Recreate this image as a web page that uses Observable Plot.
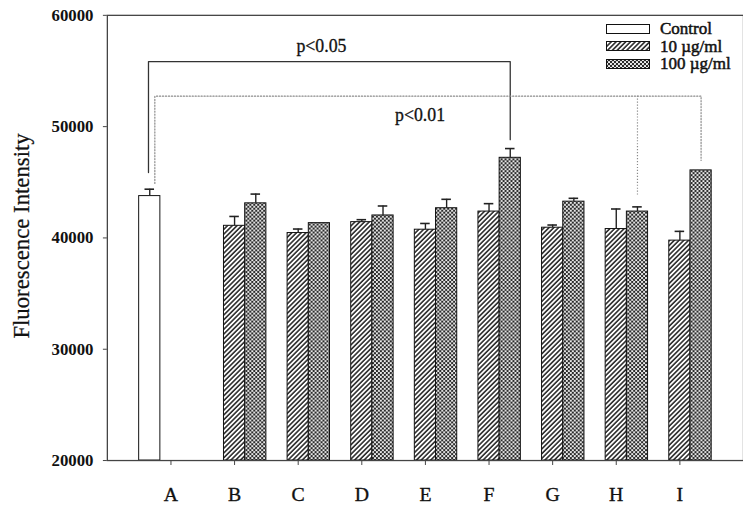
<!DOCTYPE html>
<html>
<head>
<meta charset="utf-8">
<script src="https://cdn.jsdelivr.net/npm/d3@7"></script>
<script src="https://cdn.jsdelivr.net/npm/@observablehq/plot@0.6"></script>
<style>
  html, body { margin: 0; padding: 0; background: #fff; overflow: hidden; }
  #wrap { position: relative; width: 743px; height: 510px; overflow: hidden; }
  .fig { font-family: "Liberation Serif", "DejaVu Serif", serif; color: #111; }
  .fig [aria-label="y-axis tick label"] text { font-size: 17px; font-weight: bold; }
  .fig [aria-label="x-axis tick label"] text { font-size: 20px; stroke: #111; stroke-width: 0.35px; }
  .legend { position: absolute; left: 606px; top: 20px; font-family: "Liberation Serif", serif;
            font-size: 17px; color: #111; line-height: 17.5px; -webkit-text-stroke: 0.5px #111; }
  .legend div { display: flex; align-items: center; height: 17.5px; }
  .legend svg { margin-right: 10px; display: block; }
</style>
</head>
<body>
<div id="wrap"></div>
<script>
// Fluorescence intensity per sample group (mean and upper error)
const groups = ["A", "B", "C", "D", "E", "F", "G", "H", "I"];
const series = ["Control", "10 µg/ml", "100 µg/ml"];

const controlValues = [43760, null, null, null, null, null, null, null, null];
const controlErrors = [620, 0, 0, 0, 0, 0, 0, 0, 0];
const lowValues  = [null, 41090, 40440, 41420, 40740, 42370, 40920, 40800, 39760];
const lowErrors  = [0, 840, 360, 220, 560, 710, 240, 1800, 830];
const highValues = [null, 43110, 41330, 42020, 42670, 47200, 43260, 42370, 46070];
const highErrors = [0, 830, 0, 850, 800, 830, 300, 420, 0];

const yTicks = [20000, 30000, 40000, 50000, 60000];

// significance brackets from the control bar to treated bars
const sigLabels  = ["p<0.05", "p<0.01"];
const sigLevels  = [55850, 52740];
const sigTargets = [[["F", "100 µg/ml"]], [["H", "100 µg/ml"], ["I", "100 µg/ml"]]];
const sigLegLows = [[45870, 48830], [44890, 43850, 46960]];

// ---- build rows ----
const valueSets = [controlValues, lowValues, highValues];
const errorSets = [controlErrors, lowErrors, highErrors];
const rows = [];
series.forEach((s, si) => {
  groups.forEach((g, gi) => {
    const v = valueSets[si][gi];
    if (v != null) rows.push({group: g, series: s, value: v, err: errorSets[si][gi]});
  });
});

// each group holds three slots (control, 10, 100) centred on its tick
const slot = (g, s) => groups.indexOf(g) + (series.indexOf(s) - 1) / 3;
const half = 1 / 6;
const capHalf = 0.075;

const fills = {"Control": "#fff", "10 µg/ml": "url(#hatch)", "100 µg/ml": "url(#cross)"};

const barMarks = series.map(s =>
  Plot.rect(rows.filter(d => d.series === s), {
    x1: d => slot(d.group, d.series) - half,
    x2: d => slot(d.group, d.series) + half,
    y1: () => yTicks[0],
    y2: "value",
    fill: fills[s],
    stroke: "#111",
    strokeWidth: 1
  })
);

const withErr = rows.filter(d => d.err > 0);

// bracket paths
const bracketLines = [];
const bracketLegs = [];
const bracketText = [];
sigLabels.forEach((label, bi) => {
  const shift = bi === 0 ? -0.02 : 0.08;
  const x0 = slot("A", "Control") + shift;
  const targets = sigTargets[bi];
  const last = targets[targets.length - 1];
  const xl = slot(last[0], last[1]);
  const lv = sigLevels[bi];
  const lows = sigLegLows[bi];
  [[x0, lows[0]], [x0, lv], [xl, lv], [xl, lows[lows.length - 1]]].forEach(([x, y]) =>
    bracketLines.push({bracket: bi, x, y}));
  targets.slice(0, -1).forEach((t, ti) =>
    bracketLegs.push({bracket: bi, x: slot(t[0], t[1]), y1: lv, y2: lows[ti + 1]}));
  bracketText.push({bracket: bi, label, x: (x0 + xl) / 2, y: lv});
});

const chart = Plot.plot({
  width: 751,
  height: 510,
  marginLeft: 108,
  marginRight: 0,
  marginTop: 15,
  marginBottom: 45,
  className: "fig",
  style: {fontFamily: "'Liberation Serif', serif", background: "#fff", overflow: "visible"},
  x: {type: "linear", domain: [-1, 9], axis: null},
  y: {domain: [yTicks[0], yTicks[yTicks.length - 1]], axis: null},
  marks: [
    ...barMarks,
    Plot.ruleX(withErr, {x: d => slot(d.group, d.series), y1: "value", y2: d => d.value + d.err, stroke: "#222", strokeWidth: 1.4}),
    Plot.ruleY(withErr, {y: d => d.value + d.err, x1: d => slot(d.group, d.series) - capHalf, x2: d => slot(d.group, d.series) + capHalf, stroke: "#222", strokeWidth: 1.6}),
    Plot.line(bracketLines.filter(d => d.bracket === 0), {x: "x", y: "y", stroke: "#333", strokeWidth: 1.3}),
    Plot.line(bracketLines.filter(d => d.bracket === 1), {x: "x", y: "y", stroke: "#8a8a8a", strokeWidth: 1.2, strokeDasharray: "1.2,1.8"}),
    Plot.ruleX(bracketLegs, {x: "x", y1: "y1", y2: "y2", stroke: "#8a8a8a", strokeWidth: 1.2, strokeDasharray: "1.2,1.8"}),
    Plot.text(bracketText.filter(d => d.bracket === 0), {x: "x", y: "y", text: "label", dx: -8, dy: -15, fontSize: 18, fill: "#111", stroke: "#111", strokeWidth: 0.3}),
    Plot.text(bracketText.filter(d => d.bracket === 1), {x: "x", y: "y", text: "label", dx: -8, dy: 19, fontSize: 18, fill: "#111", stroke: "#111", strokeWidth: 0.3}),
    Plot.frame({stroke: "#444", strokeWidth: 1.3}),
    Plot.axisY({ticks: yTicks, tickFormat: d3.format("d"), tickSize: 4, tickPadding: 10, label: null, stroke: "#444"}),
    Plot.axisX({ticks: d3.range(groups.length), tickFormat: i => groups[i], tickSize: 5, tickPadding: 22, label: null, stroke: "#444"}),
    Plot.text(["Fluorescence Intensity"], {frameAnchor: "left", textAnchor: "middle", rotate: -90, dx: -87, dy: -2, fontSize: 23, fill: "#111", stroke: "#111", strokeWidth: 0.25})
  ]
});

// fill patterns for the treated series
const defs = d3.select(chart).insert("defs", ":first-child");
const hatch = defs.append("pattern").attr("id", "hatch").attr("patternUnits", "userSpaceOnUse")
  .attr("width", 3.4).attr("height", 3.4).attr("patternTransform", "rotate(45)");
hatch.append("rect").attr("width", 3.4).attr("height", 3.4).attr("fill", "#fff");
hatch.append("line").attr("x1", 0.9).attr("y1", 0).attr("x2", 0.9).attr("y2", 3.4)
  .attr("stroke", "#2a2a2a").attr("stroke-width", 1.6);
const cross = defs.append("pattern").attr("id", "cross").attr("patternUnits", "userSpaceOnUse")
  .attr("width", 4).attr("height", 4);
cross.append("rect").attr("width", 4).attr("height", 4).attr("fill", "#2a2a2a");
cross.append("circle").attr("cx", 1).attr("cy", 1).attr("r", 1.05).attr("fill", "#fff");
cross.append("circle").attr("cx", 3).attr("cy", 3).attr("r", 1.05).attr("fill", "#fff");

const wrap = document.getElementById("wrap");
wrap.appendChild(chart);

// legend
const legend = d3.select(wrap).append("div").attr("class", "legend");
series.forEach(s => {
  const row = legend.append("div");
  const sw = row.append("svg").attr("width", 44).attr("height", 10);
  sw.append("rect").attr("x", 0.5).attr("y", 0.5).attr("width", 43).attr("height", 9)
    .attr("fill", fills[s]).attr("stroke", "#111").attr("stroke-width", 1);
  row.append("span").text(s);
});
</script>
</body>
</html>
